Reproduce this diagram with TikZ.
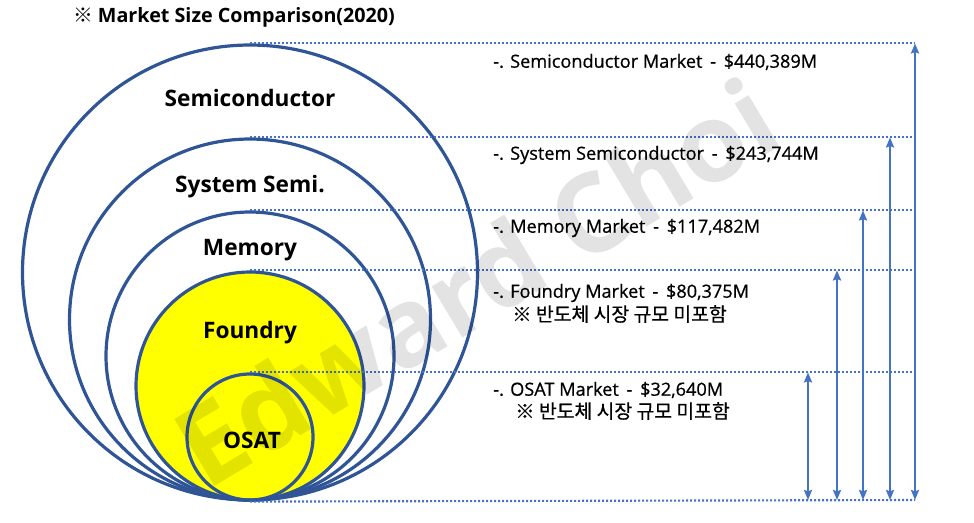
\documentclass[tikz,border=0pt]{standalone}
\usepackage{fontspec}
\setmainfont{Open Sans}
\newfontfamily\kr{Noto Sans CJK KR}
\newfontfamily\notefont{Open Sans}[FakeBold=0.7]
\newfontfamily\krnote{Noto Sans CJK KR}[FakeBold=0.6]
\usetikzlibrary{arrows.meta,positioning}
\definecolor{ringblue}{HTML}{2F5597}
\definecolor{lineblue}{HTML}{4472C4}
\definecolor{fdyellow}{HTML}{FFFF00}

\begin{document}
\begin{tikzpicture}[
  x=0.75pt, y=-0.75pt,
  ring/.style={draw=ringblue, line width=2.4pt, circle, inner sep=0pt},
  ringlbl/.style={font=\fontsize{17}{20}\selectfont\bfseries},
  note/.style={anchor=west, inner sep=0pt, font=\notefont\fontsize{13.6}{16}\selectfont},
  krline/.style={anchor=west, inner sep=0pt, font=\krnote\fontsize{14.5}{17}\selectfont},
  dline/.style={lineblue, line width=1.6pt, dash pattern=on 1.5pt off 1.5pt},
  arr/.style={{Stealth[length=7.5pt,width=6pt,inset=1pt]}-{Stealth[length=7.5pt,width=6pt,inset=1pt]}, lineblue, line width=1.6pt}
]
\useasboundingbox (0,0) rectangle (974,522);

% nested markets, all touching at the bottom
\node[ring, minimum size=341.25pt] (semi) at (250,272.5) {};
\node[ring, minimum size=270.75pt] (sys) at (250,319.5) {};
\node[ring, minimum size=216pt] (mem) at (250,356) {};
\node[ring, fill=fdyellow, minimum size=171pt] (fdry) at (250,386) {};
\node[ring, minimum size=94.5pt] (osat) at (250,437) {};

\node[ringlbl] (semilbl) at (250,98) {Semiconductor};
\node[ringlbl] (syslbl) at (250,187) {System Semi.};
\node[ringlbl] (memlbl) at (250,250) {Memory};
\node[ringlbl] (fdrylbl) at (250,333) {Foundry};
\node[ringlbl] (osatlbl) at (252,440) {OSAT};

\node[font=\fontsize{14.8}{17}\selectfont\bfseries] (title) at (234,17) {{\kr ※} Market Size Comparison(2020)};

% size arrows
\coordinate (b1) at (915,500);
\coordinate (b2) at (890,500);
\coordinate (b3) at (863,500);
\coordinate (b4) at (837,500);
\coordinate (b5) at (808,500);

\draw[dline] (semi.north) -- (semi.north -| b1);
\draw[dline] (sys.north) -- (sys.north -| b1);
\draw[dline] (mem.north) -- (mem.north -| b1);
\draw[dline] (fdry.north) -- (fdry.north -| b1);
\draw[dline] (osat.north) -- (osat.north -| b1);
\draw[dline] (osat.south) -- (b1);

\draw[arr] (b1) -- (semi.north -| b1);
\draw[arr] (b2) -- (sys.north -| b2);
\draw[arr] (b3) -- (mem.north -| b3);
\draw[arr] (b4) -- (fdry.north -| b4);
\draw[arr] (b5) -- (osat.north -| b5);

\node[note] (semitxt) at (493,62) {-. Semiconductor Market\, -\, \$440,389M};
\node[note] (systxt) at (493,155) {-. System Semiconductor\, -\, \$243,744M};
\node[note] (memtxt) at (493,228) {-. Memory Market\, -\, \$117,482M};
\node[note] (fdrytxt) at (493,293) {-. Foundry Market\, -\, \$80,375M};
\node[krline] (fdrynote) at (512,314) {※ 반도체 시장 규모 미포함};
\node[note] (osattxt) at (493,390) {-. OSAT Market\, -\, \$32,640M};
\node[krline] (osatnote) at (515,411) {※ 반도체 시장 규모 미포함};

% watermark
\node[font=\fontsize{82}{86}\selectfont\bfseries, black, opacity=0.11, rotate=31] (wm) at (476,282) {Edward Choi};
\end{tikzpicture}
\end{document}
